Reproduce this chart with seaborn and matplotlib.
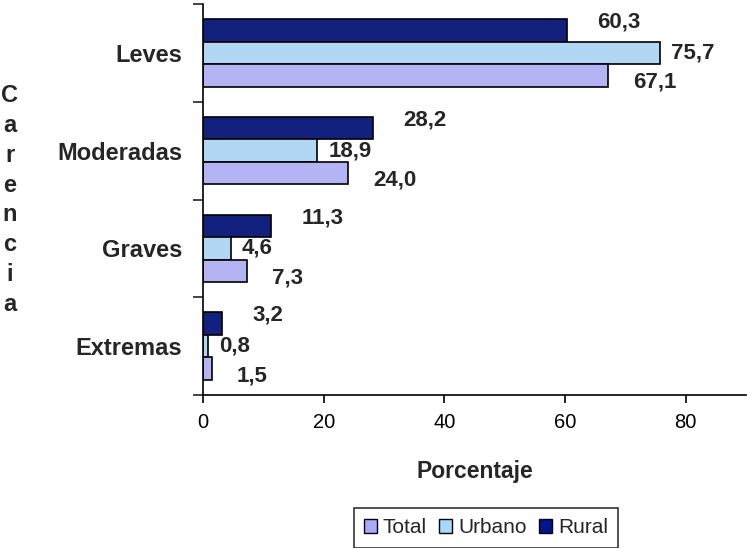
import matplotlib
matplotlib.use("Agg")
import matplotlib.pyplot as plt
import seaborn as sns
import pandas as pd
from matplotlib.patches import Patch

categories = ["Leves", "Moderadas", "Graves", "Extremas"]
total = [67.1, 24.0, 7.3, 1.5]
urbano = [75.7, 18.9, 4.6, 0.8]
rural = [60.3, 28.2, 11.3, 3.2]
series_names = ["Total", "Urbano", "Rural"]
colors = {"Total": "#A9A9FF", "Urbano": "#A6D9FF", "Rural": "#00148F"}

rows = []
for name, vals in zip(series_names, [total, urbano, rural]):
    for c, v in zip(categories, vals):
        rows.append({"Carencia": c, "Serie": name, "Porcentaje": v})
df = pd.DataFrame(rows)

sns.set_style("white")
plt.rcParams["font.family"] = ["Liberation Sans", "DejaVu Sans"]

fig = plt.figure(figsize=(7.47, 5.48), dpi=100)
ax = fig.add_axes([203 / 747, 1 - 395 / 548, (746 - 203) / 747, (395 - 4) / 548])

hue_order = ["Rural", "Urbano", "Total"]
sns.barplot(data=df, y="Carencia", x="Porcentaje", hue="Serie", order=categories,
            hue_order=hue_order, palette=colors, orient="h", width=0.69,
            edgecolor="black", linewidth=1.2, ax=ax, legend=False, errorbar=None)

ax.set_xlim(0, 90)
ax.set_ylim(3.5, -0.5)
ax.set_xticks([0, 20, 40, 60, 80])
ax.tick_params(axis="x", labelsize=14.5, length=6, width=1.2, pad=7, direction="out", bottom=True, colors="black")
ax.set_yticks([-0.5, 0.5, 1.5, 2.5, 3.5])
ax.set_yticklabels([])
ax.tick_params(axis="y", which="major", length=7, width=1.2, direction="out", left=True)
ax.set_yticks(range(len(categories)), minor=True)
ax.set_yticklabels(categories, minor=True, fontsize=17, fontweight="bold")
ax.tick_params(axis="y", which="minor", length=0, pad=15)
for s in ["top", "right"]:
    ax.spines[s].set_visible(False)
for s in ["left", "bottom"]:
    ax.spines[s].set_color("black")
    ax.spines[s].set_linewidth(1.2)
ax.set_ylabel("")
ax.set_xlabel("Porcentaje", fontsize=16.5, fontweight="bold", labelpad=20)

offsets = {"Rural": (22, 6), "Urbano": (8, 0), "Total": (18, -5)}
for cont, name in zip(ax.containers, hue_order):
    for bar in cont:
        w = bar.get_width()
        yc = bar.get_y() + bar.get_height() / 2
        dx, dy = offsets[name]
        ax.annotate(f"{w:.1f}".replace(".", ","), xy=(w, yc), xytext=(dx, dy),
                    textcoords="offset points", ha="left", va="center",
                    fontsize=16, fontweight="bold", annotation_clip=False)

fig.text(10 / 747, 1 - 200 / 548, "C\na\nr\ne\nn\nc\ni\na", ha="center", va="center",
         fontsize=17, fontweight="bold", linespacing=1.38)

handles = [Patch(facecolor=colors[n], edgecolor="black", linewidth=1) for n in series_names]
leg = fig.legend(handles, series_names, loc="upper center", bbox_to_anchor=(486 / 747, 1 - 508 / 548),
                 ncol=3, fontsize=15, frameon=True, fancybox=False, handlelength=0.6,
                 handleheight=0.6, handletextpad=0.3, columnspacing=0.6, borderpad=0.5,
                 borderaxespad=0)
leg.get_frame().set_edgecolor("black")
leg.get_frame().set_linewidth(1.2)

fig.savefig("out.png", dpi=100)
